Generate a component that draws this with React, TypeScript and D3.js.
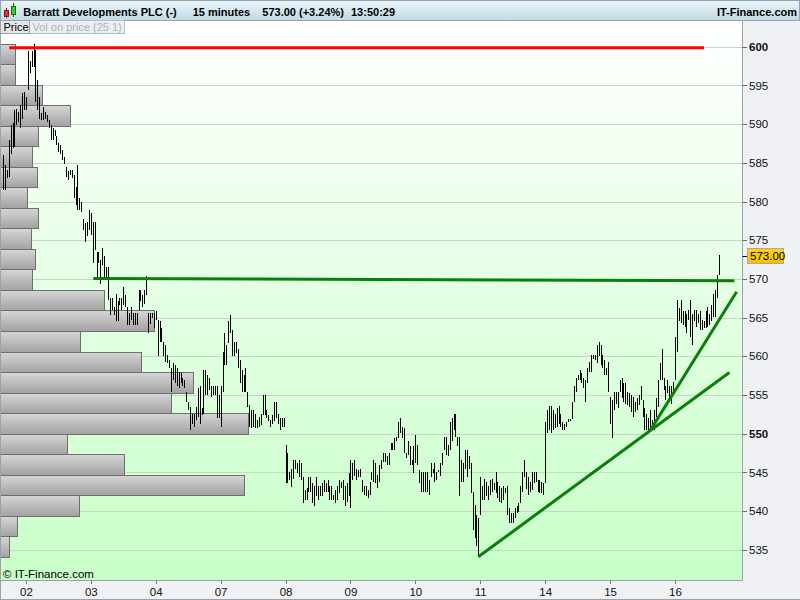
import React, { useEffect } from 'react';
import * as d3 from 'd3';

// ---- price bars (15-minute high / low), oldest first ----
const highs: number[] = [
  586.0, 584.7, 584.1, 588.0, 589.9, 590.1, 591.8, 592.0, 591.6, 592.5,
  594.0, 594.2, 593.5, 599.4, 598.1, 599.4, 600.4, 599.6, 595.7, 593.5,
  591.4, 592.2, 591.6, 591.2, 590.5, 589.9, 589.5, 589.2, 588.4, 587.5,
  587.3, 586.7, 585.8, 584.5, 583.9, 584.1, 584.1, 583.4, 581.9, 584.7,
  580.4, 580.0, 577.8, 577.2, 577.4, 578.9, 578.5, 577.4, 577.4, 573.5,
  573.5, 572.4, 574.0, 572.9, 571.6, 571.6, 567.5, 567.5, 566.4, 568.1,
  567.1, 567.5, 567.5, 569.0, 567.9, 566.4, 565.6, 566.4, 565.6, 565.6,
  565.6, 568.6, 568.6, 567.9, 568.6, 570.4, 565.6, 565.6, 565.6, 565.6,
  565.8, 564.7, 564.5, 563.6, 561.9, 561.5, 560.2, 559.5, 558.5, 559.1,
  558.9, 558.5, 558.0, 557.8, 557.2, 557.0, 555.4, 554.1, 553.5, 552.6,
  552.6, 553.5, 555.9, 556.1, 553.3, 558.2, 558.2, 557.6, 557.2, 556.1,
  556.1, 556.1, 556.1, 555.0, 556.1, 560.6, 563.0, 561.5, 564.5, 565.3,
  563.4, 561.9, 561.9, 561.0, 559.5, 558.2, 557.6, 558.5, 555.4, 553.7,
  553.1, 553.1, 552.6, 551.8, 552.2, 552.6, 555.0, 555.0, 553.1, 552.4,
  551.8, 552.4, 554.1, 554.1, 552.6, 552.0, 552.0, 552.0,
  548.5, 547.5, 545.1, 545.5, 546.6, 546.6, 546.2, 546.6, 546.2, 544.4,
  542.7, 543.0, 544.4, 544.4, 543.6, 543.2, 544.4, 543.2, 543.2, 543.6,
  544.0, 543.6, 544.0, 543.2, 543.2, 542.1, 542.7, 543.2, 544.0, 543.8,
  544.0, 543.2, 543.6, 544.9, 546.6, 546.2, 546.6, 545.5, 545.3, 545.5,
  544.0, 543.2, 543.2, 542.7, 543.8, 545.1, 546.6, 546.2, 544.7, 546.0,
  546.6, 547.5, 547.5, 547.1, 547.5, 548.8, 548.8, 549.4, 549.6, 551.5,
  552.0, 550.9, 550.7, 547.5, 549.1, 548.4, 546.6, 548.4, 549.8, 548.6,
  545.3, 545.1, 545.1, 545.1, 545.1, 544.0, 546.2, 545.5, 546.2, 545.1,
  545.3, 546.2, 547.5, 549.6, 549.6, 548.6, 551.5, 552.0, 552.5, 552.5,
  549.6, 549.6, 546.6, 546.2, 547.9, 547.9, 547.1, 546.2, 542.5, 540.8, 539.5, 539.1,
  544.4, 543.2, 544.2, 543.8, 543.2, 544.0, 544.2, 543.6, 545.1, 543.8,
  543.2, 543.0, 543.2, 543.0, 543.2, 540.4, 539.7, 539.7, 540.4, 540.6,
  541.0, 543.2, 545.1, 546.6, 545.1, 544.4, 543.8, 545.1, 545.1, 545.1, 544.0, 544.0, 543.8, 543.6,
  551.5, 553.1, 553.6, 553.6, 553.1, 552.6, 553.3, 553.6, 552.6, 551.5,
  551.3, 551.5, 551.9, 551.9, 554.1, 556.1, 557.2, 557.6, 558.2, 557.8,
  557.2, 557.0, 558.5, 559.3, 560.2, 560.2, 560.2, 561.5, 561.9, 561.5, 560.2, 559.5, 558.5, 559.3,
  554.8, 554.4, 555.4, 555.4, 555.4, 557.0, 557.2, 556.5, 556.5, 555.4,
  555.2, 555.0, 554.8, 554.1, 554.6, 555.0, 556.1, 554.4, 553.3, 552.6,
  552.0, 553.1, 551.8, 553.1, 554.6, 556.9, 559.1, 561.0, 557.2, 556.1, 556.9, 556.1, 556.1, 556.7,
  562.5, 567.3, 566.2, 567.3, 565.8, 565.8, 565.5, 566.0, 567.3, 565.5,
  566.0, 566.0, 565.5, 565.8, 564.7, 564.5, 565.8, 566.4, 565.5, 566.6, 568.1, 568.6, 570.5, 573.1,
];

const lows: number[] = [
  581.5, 581.5, 583.0, 583.2, 586.2, 586.9, 587.1, 589.9, 590.3, 589.5,
  590.7, 591.8, 591.8, 594.4, 596.6, 597.4, 597.4, 592.9, 591.8, 590.7,
  590.5, 590.5, 590.7, 590.3, 589.5, 588.0, 588.0, 588.4, 587.3, 586.4,
  586.2, 585.4, 584.9, 583.2, 582.8, 583.4, 583.0, 580.4, 579.5, 578.9,
  578.9, 578.6, 576.3, 574.8, 575.5, 576.3, 575.7, 572.0, 573.7, 570.1,
  572.0, 569.4, 571.8, 570.3, 569.9, 567.3, 565.3, 566.0, 565.3, 564.5,
  564.5, 566.6, 566.0, 566.6, 566.4, 564.0, 564.0, 564.7, 564.0, 564.0,
  564.0, 566.0, 567.1, 566.4, 566.8, 567.9, 563.0, 564.2, 564.9, 563.7,
  564.7, 560.0, 561.9, 561.9, 560.0, 559.3, 559.1, 558.5, 555.4, 556.9,
  556.5, 556.1, 555.9, 556.5, 556.1, 555.9, 554.1, 553.1, 550.5, 551.3,
  550.9, 551.8, 552.2, 551.3, 552.4, 552.6, 555.0, 555.0, 555.6, 554.8,
  555.0, 555.0, 552.0, 552.0, 550.9, 555.4, 558.9, 558.9, 561.7, 563.0,
  560.0, 560.0, 560.4, 558.5, 556.5, 555.4, 555.4, 555.4, 553.5, 550.9,
  550.7, 550.9, 550.7, 550.7, 550.9, 551.1, 552.4, 552.4, 552.0, 551.6,
  550.9, 551.3, 551.6, 552.0, 551.3, 550.5, 550.9, 550.9,
  543.6, 543.6, 544.0, 543.1, 544.2, 545.5, 544.9, 544.4, 544.0, 541.0,
  541.4, 541.4, 542.5, 542.5, 541.0, 540.6, 541.9, 541.4, 541.9, 541.9,
  542.5, 542.5, 542.5, 541.4, 541.4, 541.4, 541.0, 541.4, 542.3, 543.0,
  541.4, 540.6, 541.2, 541.9, 540.4, 544.0, 544.6, 544.0, 544.4, 544.4,
  542.5, 542.1, 541.9, 541.7, 542.1, 544.0, 543.8, 543.6, 543.0, 543.8,
  545.5, 546.4, 546.4, 546.0, 546.0, 547.9, 547.9, 547.9, 549.0, 549.4,
  550.1, 549.4, 547.5, 546.8, 547.3, 546.0, 546.0, 544.9, 546.2, 546.0,
  543.6, 542.5, 542.5, 542.5, 542.5, 542.1, 544.4, 544.9, 543.8, 544.0,
  545.1, 544.6, 546.0, 547.9, 547.3, 547.1, 547.9, 549.1, 550.5, 549.6,
  548.4, 541.9, 543.8, 543.8, 545.5, 544.4, 545.5, 542.3, 537.6, 536.5, 535.5, 534.1,
  539.5, 541.4, 541.4, 541.9, 541.4, 542.1, 542.5, 542.7, 542.3, 541.7,
  541.2, 541.0, 541.4, 542.3, 539.5, 538.4, 538.4, 538.4, 539.1, 539.7,
  539.9, 541.0, 542.5, 544.4, 542.9, 542.1, 542.5, 542.7, 543.6, 543.8, 542.5, 542.3, 542.3, 542.1,
  543.6, 550.1, 550.5, 550.1, 550.5, 550.7, 550.9, 551.3, 550.9, 550.5,
  550.5, 550.9, 551.5, 551.7, 551.9, 554.1, 555.4, 557.0, 557.0, 556.5,
  555.9, 554.1, 556.5, 558.0, 558.0, 559.7, 559.5, 559.1, 560.0, 558.9, 558.5, 557.6, 557.6, 555.4,
  551.3, 549.4, 553.0, 553.9, 553.3, 555.4, 554.6, 554.1, 553.9, 553.7,
  553.5, 552.8, 552.2, 552.8, 553.0, 553.7, 554.4, 552.2, 550.5, 550.5,
  550.3, 550.5, 550.7, 550.5, 552.2, 553.5, 556.9, 556.9, 555.6, 554.4, 555.2, 554.4, 553.9, 555.2,
  556.9, 560.6, 564.5, 564.3, 564.0, 563.8, 563.0, 564.7, 562.5, 561.5,
  564.5, 563.8, 564.3, 563.4, 563.4, 563.6, 563.6, 563.8, 564.0, 564.5, 565.1, 565.1, 567.5, 570.5,
];

// ---- x-axis: day labels and the bar index where each day starts ----
const dayLabels = ['02', '03', '04', '07', '08', '09', '10', '11', '14', '15', '16'];
const dayStartIdx = [12, 46, 80, 114, 148, 182, 216, 250, 284, 318, 352];

// ---- y-axis ticks ----
const priceTicks = [535, 540, 545, 550, 555, 560, 565, 570, 575, 580, 585, 590, 595, 600];
const boldTicks = [550, 600];

// ---- volume on price: 25 bins, from the highest price bin to the lowest ----
const volProfile = [59, 59, 167, 283, 151, 127, 147, 107, 151, 123, 139, 127, 419, 621, 321, 565, 777, 687, 995, 269, 499, 979, 319, 69, 37];

// ---- drawn lines: [barIndex0, price0, barIndex1, price1] ----
const resistanceLine = [3.3, 599.85, 367.2, 599.85];
const supportLine = [47.3, 570.05, 383.1, 569.77];
const longTrend = [249, 534.1, 380.5, 557.9];
const steepTrend = [339, 550.4, 384.3, 568.35];

const lastPrice = 573.0;
const titleParts = ['Barratt Developments PLC (-)', '15 minutes', '573.00 (+3.24%)', '13:50:29'];

const FONT = '"Liberation Sans", Arial, sans-serif';

export default function App() {
  useEffect(() => {
    document.body.style.margin = '0';
  }, []);

  const W = 800;
  const H = 600;
  const plotR = 742.5;
  const plotT = 20.5;
  const plotB = 580.5;

  const x = d3.scaleLinear().domain([0, 388]).range([3, 3 + 388 * 1.909]);
  const y = d3.scaleLinear().domain([531.1, 603.45]).range([580, 20]);

  const hiMax = d3.max(highs) as number;
  const loMin = d3.min(lows) as number;
  const binH = (hiMax - loMin) / volProfile.length;
  const vScale = d3.scaleLinear().domain([0, d3.max(volProfile) as number]).range([0, plotR / 3]);

  const px = (i: number) => Math.round(x(i)) + 0.5;
  const py = (v: number) => Math.round(y(v)) + 0.5;

  const seg = (l: number[], color: string, key: string) => (
    <line key={key} x1={x(l[0])} y1={y(l[1])} x2={x(l[2])} y2={y(l[3])} stroke={color} strokeWidth={3} />
  );

  return (
    <svg width={W} height={H} style={{ position: 'absolute', left: 0, top: 0, display: 'block' }} fontFamily={FONT}>
      <defs>
        <linearGradient id="bg" x1="0" y1="0" x2="0" y2="1">
          <stop offset="0" stopColor="#ffffff" />
          <stop offset="1" stopColor="#c8ffc8" />
        </linearGradient>
        <linearGradient id="hdr" x1="0" y1="0" x2="0" y2="1">
          <stop offset="0" stopColor="#e9f6fb" />
          <stop offset="1" stopColor="#c3d9e3" />
        </linearGradient>
        <linearGradient id="vbox" x1="0" y1="0" x2="0" y2="1">
          <stop offset="0" stopColor="#d6d6d6" />
          <stop offset="1" stopColor="#a2a2a2" />
        </linearGradient>
        <linearGradient id="gold" x1="0" y1="0" x2="0" y2="1">
          <stop offset="0" stopColor="#ffd21a" />
          <stop offset="1" stopColor="#f5c000" />
        </linearGradient>
        <clipPath id="plotClip">
          <rect x={0} y={plotT} width={plotR} height={plotB - plotT} />
        </clipPath>
      </defs>

      {/* panels */}
      <rect x={0} y={0} width={W} height={H} fill="#f0f1f4" />
      <rect x={0} y={plotT} width={plotR} height={plotB - plotT} fill="url(#bg)" />

      {/* grid */}
      {priceTicks.map((t) => (
        <line key={'g' + t} x1={0} x2={plotR} y1={py(t)} y2={py(t)} stroke="#c3d8c3" strokeWidth={1} />
      ))}

      {/* volume on price */}
      <g clipPath="url(#plotClip)">
        {volProfile.map((v, k) => {
          const top = y(hiMax - k * binH);
          const bot = y(hiMax - (k + 1) * binH);
          return (
            <rect
              key={'v' + k}
              x={0.5}
              y={Math.round(top) + 0.5}
              width={Math.round(vScale(v))}
              height={Math.round(bot) - Math.round(top)}
              fill="url(#vbox)"
              stroke="#6e6e6e"
              strokeWidth={1}
            />
          );
        })}
      </g>

      {/* price bars */}
      <g clipPath="url(#plotClip)" shapeRendering="crispEdges">
        {highs.map((h, i) => {
          const y1 = Math.round(y(h));
          let y2 = Math.round(y(lows[i]));
          if (y2 - y1 < 2) y2 = y1 + 2;
          return <line key={'b' + i} x1={px(i)} x2={px(i)} y1={y1} y2={y2} stroke="#000" strokeWidth={1} />;
        })}
      </g>

      {/* drawn lines */}
      <g clipPath="url(#plotClip)">
        {seg(resistanceLine, '#ff0000', 'r')}
        {seg(supportLine, '#0a800a', 's')}
        {seg(longTrend, '#0a800a', 'lt')}
        {seg(steepTrend, '#0a800a', 'st')}
      </g>

      {/* borders */}
      <line x1={plotR} x2={plotR} y1={plotT} y2={plotB} stroke="#9aa3ab" />
      <line x1={0} x2={plotR} y1={plotB} y2={plotB} stroke="#9aa3ab" />
      <line x1={0.5} x2={0.5} y1={plotT} y2={H} stroke="#9aa3ab" />
      <line x1={0} x2={W} y1={H - 0.5} y2={H - 0.5} stroke="#9aa3ab" />

      {/* right axis */}
      {priceTicks.map((t) => (
        <g key={'t' + t}>
          <line x1={plotR} x2={747} y1={py(t)} y2={py(t)} stroke="#6a6a6a" />
          <text
            x={749}
            y={y(t)}
            dy="0.36em"
            fontSize={11.5}
            fontWeight={boldTicks.includes(t) ? 'bold' : 'normal'}
            fill="#111"
          >
            {t}
          </text>
        </g>
      ))}
      <line x1={plotR} x2={747.5} y1={py(lastPrice)} y2={py(lastPrice)} stroke="#000" />
      <rect x={747.5} y={Math.round(y(lastPrice)) - 7.5} width={36} height={15} fill="url(#gold)" stroke="#a8a8a8" />
      <text x={750} y={y(lastPrice)} dy="0.36em" fontSize={11.5} fill="#000">
        {lastPrice.toFixed(2)}
      </text>

      {/* bottom axis */}
      {dayStartIdx.map((idx, k) => (
        <g key={'d' + k}>
          <line x1={px(idx)} x2={px(idx)} y1={plotB} y2={584} stroke="#7a7a7a" />
          <text x={x(idx) + 0.5} y={596} textAnchor="middle" fontSize={11.5} fill="#111">
            {dayLabels[k]}
          </text>
        </g>
      ))}

      <text x={3} y={578} fontSize={11.5} fill="#000">© IT-Finance.com</text>

      {/* header */}
      <rect x={0.5} y={0.5} width={W - 1} height={20} fill="url(#hdr)" stroke="#9aa3ab" />
      {/* icon */}
      <line x1={6.5} x2={6.5} y1={8} y2={18} stroke="#7a1010" />
      <rect x={4.5} y={10.5} width={4} height={6} fill="#e83030" stroke="#8a1818" />
      <line x1={13.5} x2={13.5} y1={3} y2={17} stroke="#106a10" />
      <rect x={11.5} y={6.5} width={4} height={8} fill="#33cc33" stroke="#167016" />
      <text x={23.3} y={15.5} fontSize={11} fontWeight="bold" fill="#000">{titleParts[0]}</text>
      <text x={192.7} y={15.5} fontSize={11} fontWeight="bold" fill="#000">{titleParts[1]}</text>
      <text x={262.3} y={15.5} fontSize={11} fontWeight="bold" fill="#000">{titleParts[2]}</text>
      <text x={351} y={15.5} fontSize={11} fontWeight="bold" fill="#000">{titleParts[3]}</text>
      <text x={797} y={15.5} fontSize={11} fontWeight="bold" fill="#000" textAnchor="end">IT-Finance.com</text>

      {/* tabs */}
      <rect x={29.5} y={20.5} width={95} height={13} fill="#eceef1" stroke="#b4bcc4" />
      <text x={32.5} y={31} fontSize={11} fill="#aab3bb">Vol on price (25 1)</text>
      <rect x={0.5} y={20.5} width={29} height={13} fill="#e3e6e9" stroke="#9aa3ab" />
      <text x={3.5} y={31} fontSize={11} fill="#000">Price</text>
    </svg>
  );
}
